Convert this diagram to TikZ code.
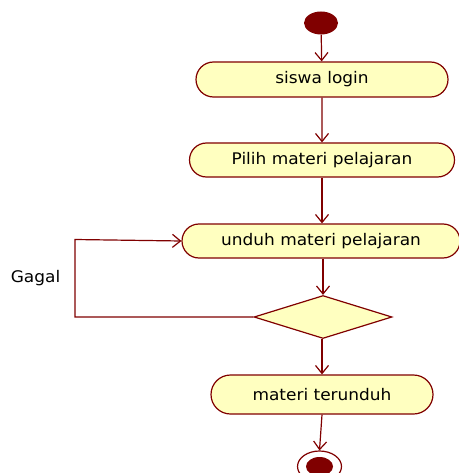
\documentclass[tikz,border=0pt]{standalone}
\usepackage{fontspec}
\setmainfont{DejaVu Sans}
\usetikzlibrary{arrows.meta,shapes.geometric,shapes.misc}
\definecolor{umlred}{HTML}{800000}
\definecolor{umlfill}{HTML}{FFFFC0}
\tikzset{
  act/.style={rounded rectangle, draw=umlred, fill=umlfill, line width=1.2pt, inner sep=0pt, font=\fontsize{16}{19}\selectfont},
  flow/.style={draw=umlred, line width=1.2pt, -{Straight Barb[length=8pt,width=13pt,line width=1.2pt]}},
  dec/.style={diamond, draw=umlred, fill=umlfill, line width=1.2pt, inner sep=0pt},
}
\begin{document}
\begin{tikzpicture}[x=1pt,y=-1pt]
\useasboundingbox (0,0) rectangle (458,473);
\node[ellipse, fill=umlred, minimum width=34pt, minimum height=23pt, inner sep=0pt] (start) at (321,23) {};
\node[act, minimum width=252pt, minimum height=35pt] (login) at (322,79.5) {\scalebox{1.06}[1]{siswa login}};
\node[act, minimum width=265pt, minimum height=34pt] (pilih) at (322,160) {\scalebox{1.06}[1]{Pilih materi pelajaran}};
\node[act, minimum width=278pt, minimum height=34pt] (unduh) at (321,241) {\scalebox{1.06}[1]{unduh materi pelajaran}};
\node[dec, minimum width=138pt, minimum height=43pt] (d) at (323,317) {};
\node[act, minimum width=222pt, minimum height=39pt] (ter) at (322,394.5) {\scalebox{1.06}[1]{materi terunduh}};
\node[ellipse, draw=umlred, line width=1.2pt, fill=white, minimum width=44pt, minimum height=31pt, inner sep=0pt] (end) at (319.5,466.5) {};
\node[ellipse, fill=umlred, minimum width=27pt, minimum height=19pt, inner sep=0pt] (endin) at (319.5,466.5) {};
\node[font=\fontsize{16}{19}\selectfont] (gagal) at (35.5,278) {\scalebox{1.06}[1]{Gagal}};
\coordinate (lp) at (75,239.5);
\draw[flow] (start) -- (login);
\draw[flow] (login) -- (pilih);
\draw[flow] (pilih.south) -- (pilih.south |- unduh.north);
\draw[flow] (unduh.south -| d.north) -- (d.north);
\draw[flow] (d.south -| ter.north) -- (ter.north);
\draw[flow] (ter.south) -- (end.north);
\draw[flow] (d.west) -- (d.west -| lp) -- (lp) -- (unduh.west);
\end{tikzpicture}
\end{document}
